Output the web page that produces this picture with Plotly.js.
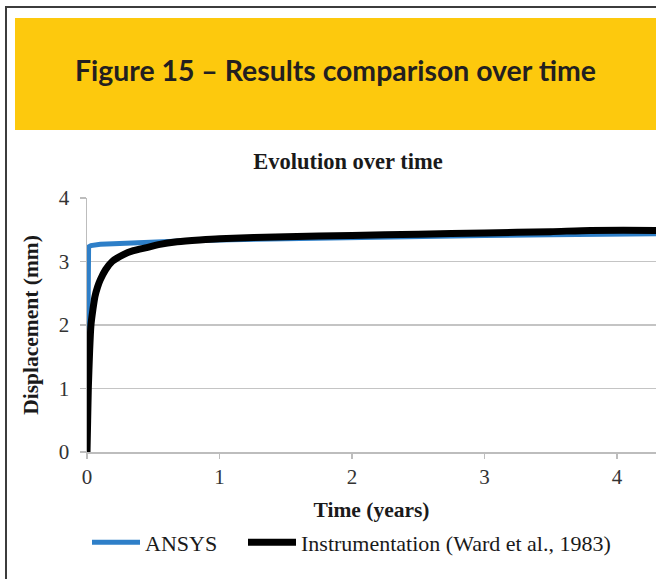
<!DOCTYPE html>
<html>
<head>
<meta charset="utf-8">
<script src="https://cdn.plot.ly/plotly-3.0.1.min.js"></script>
<style>
  html, body { margin: 0; padding: 0; background: #ffffff; }
  #wrap { position: relative; width: 656px; height: 579px; overflow: hidden; background: #fff; }
  #frame { position: absolute; left: 5px; top: 6px; width: 800px; height: 800px; border: 2px solid #3c3c3c; box-sizing: border-box; }
  #banner { position: absolute; left: 15px; top: 18px; width: 700px; height: 112px; background: #FDC90D; }
  #banner span { position: absolute; left: 60px; top: 35px; font-family: "Lato", sans-serif; font-weight: 700; font-size: 28.4px; color: #231F20; white-space: nowrap; }
  #chart { position: absolute; left: 0; top: 0; width: 656px; height: 579px; }
</style>
</head>
<body>
<div id="wrap">
  <div id="frame"></div>
  <div id="banner"><span id="btxt">Figure 15 – Results comparison over time</span></div>
  <div id="chart"></div>
</div>
<script>
// Data (time in years, displacement in mm)
const ansysTime = [0, 0.008, 0.012, 0.03, 0.06, 0.1, 0.2, 0.3, 0.45, 0.6, 0.8, 1.0, 1.5, 2.0, 2.5, 3.0, 3.5, 4.0, 4.5];
const ansysDisp = [0, 3.2, 3.23, 3.25, 3.26, 3.27, 3.28, 3.29, 3.30, 3.32, 3.33, 3.34, 3.36, 3.37, 3.39, 3.41, 3.42, 3.43, 3.44];

const instrTime = [0, 0.005, 0.01, 0.02, 0.03, 0.045, 0.06, 0.08, 0.1, 0.14, 0.19, 0.275, 0.35, 0.45, 0.55, 0.68, 0.85, 1.0, 1.5, 2.0, 2.5, 3.0, 3.5, 3.8, 4.3, 4.5];
const instrDisp = [0, 0.5, 1.0, 1.6, 2.0, 2.25, 2.45, 2.6, 2.71, 2.87, 3.0, 3.11, 3.17, 3.22, 3.27, 3.31, 3.34, 3.36, 3.39, 3.41, 3.43, 3.45, 3.47, 3.49, 3.49, 3.49];

const seriesNames = ["ANSYS", "Instrumentation (Ward et al., 1983)"];
const xTicks = [0, 1, 2, 3, 4];
const yTicks = [0, 1, 2, 3, 4];

const serif = "Liberation Serif, Times New Roman, serif";

const traces = [
  { x: ansysTime, y: ansysDisp, name: seriesNames[0], mode: "lines", legend: "legend",
    line: { color: "#2E7FC8", width: 5 }, hoverinfo: "skip" },
  { x: instrTime, y: instrDisp, name: seriesNames[1], mode: "lines", legend: "legend2",
    line: { color: "#000000", width: 7, shape: "spline", smoothing: 0.6 }, hoverinfo: "skip" }
];

const legendFont = { family: serif, size: 22, color: "#1a1a1a" };

const layout = {
  width: 656, height: 579,
  margin: { l: 87, r: 0, t: 198, b: 127, pad: 0 },
  paper_bgcolor: "rgba(0,0,0,0)",
  plot_bgcolor: "rgba(0,0,0,0)",
  showlegend: true,
  title: {
    text: "<b>Evolution over time</b>",
    font: { family: serif, size: 22.5, color: "#1a1a1a" },
    xref: "container", yref: "container",
    x: 348 / 656, y: 1 - 161 / 579, xanchor: "center", yanchor: "middle"
  },
  xaxis: {
    range: [0, 4.295], tickvals: xTicks, ticktext: xTicks.map(String),
    showgrid: false, zeroline: false,
    showline: true, linecolor: "#BDBDBD", linewidth: 1.5,
    ticks: "outside", ticklen: 5, tickwidth: 1.5, tickcolor: "#BDBDBD",
    tickfont: { family: serif, size: 21, color: "#333" },
    title: { text: "<b>Time (years)</b>", font: { family: serif, size: 21.5, color: "#1a1a1a" }, standoff: 14 },
    fixedrange: true
  },
  yaxis: {
    range: [0, 4], tickvals: yTicks, ticktext: yTicks.map(String),
    showgrid: true, gridcolor: "#C4C4C4", gridwidth: 1.5,
    zeroline: false,
    showline: true, linecolor: "#BDBDBD", linewidth: 1.5,
    ticks: "outside", ticklen: 6, tickwidth: 1.5, tickcolor: "#BDBDBD",
    ticklabelstandoff: 6,
    tickfont: { family: serif, size: 21, color: "#333" },
    title: { text: "<b>Displacement (mm)</b>", font: { family: serif, size: 21.5, color: "#1a1a1a" }, standoff: 14 },
    fixedrange: true
  },
  legend: {
    orientation: "h", x: 0, xanchor: "left", y: -0.273, yanchor: "top",
    font: legendFont, itemwidth: 48, bgcolor: "rgba(0,0,0,0)"
  },
  legend2: {
    orientation: "h", x: (243 - 87) / 569, xanchor: "left", y: -0.273, yanchor: "top",
    font: legendFont, itemwidth: 48, bgcolor: "rgba(0,0,0,0)"
  }
};

Plotly.newPlot("chart", traces, layout, { displayModeBar: false, staticPlot: true });
</script>
</body>
</html>
